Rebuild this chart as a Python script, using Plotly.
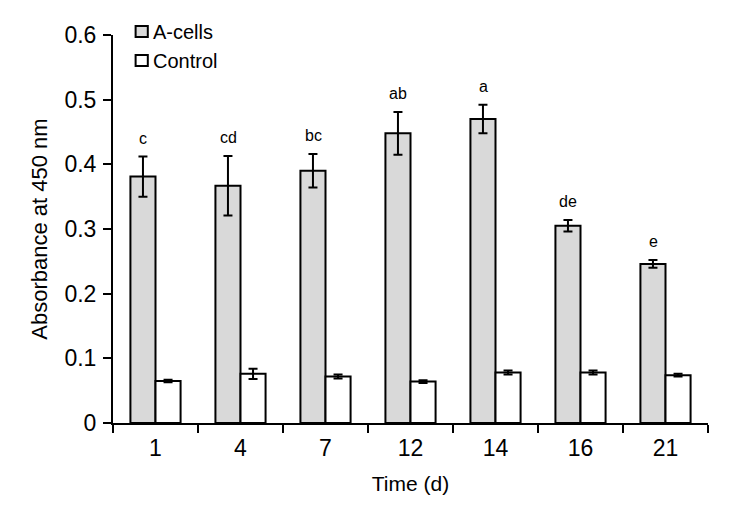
import plotly.graph_objects as go

days = ["1", "4", "7", "12", "14", "16", "21"]
a_cells = [0.381, 0.367, 0.390, 0.448, 0.470, 0.305, 0.246]
a_cells_err = [0.031, 0.046, 0.026, 0.033, 0.022, 0.009, 0.006]
control = [0.065, 0.076, 0.072, 0.064, 0.078, 0.078, 0.074]
control_err = [0.002, 0.008, 0.003, 0.002, 0.003, 0.003, 0.002]
letters = ["c", "cd", "bc", "ab", "a", "de", "e"]
series_names = ["A-cells", "Control"]
series_colors = ["#d9d9d9", "white"]

FONT = "Liberation Sans, Arial, sans-serif"

fig = go.Figure()
fig.add_trace(go.Bar(
    x=days, y=a_cells, name=series_names[0],
    marker=dict(color=series_colors[0], line=dict(color="black", width=2)),
    error_y=dict(type="data", array=a_cells_err, color="black", thickness=2, width=4.5),
))
fig.add_trace(go.Bar(
    x=days, y=control, name=series_names[1],
    marker=dict(color=series_colors[1], line=dict(color="black", width=2)),
    error_y=dict(type="data", array=control_err, color="black", thickness=2, width=4.5),
))

for i, (v, e, t) in enumerate(zip(a_cells, a_cells_err, letters)):
    fig.add_annotation(x=i, y=v + e, xref="x", yref="y", text=t, showarrow=False, xshift=-12.5,
                       yanchor="bottom", yshift=8,
                       font=dict(family=FONT, size=16, color="black"))

# manual legend (square swatch + label), positioned in paper coordinates
legend_rows = [(0.9948, 1.0232), (0.9200, 0.9484)]
for (y0, y1), name, col in zip(legend_rows, series_names, series_colors):
    fig.add_shape(type="rect", xref="paper", yref="paper", x0=0.038, x1=0.0585, y0=y0, y1=y1,
                  fillcolor=col, line=dict(color="black", width=2))
    fig.add_annotation(xref="paper", yref="paper", x=0.0645, y=(y0 + y1) / 2, text=name,
                       showarrow=False, xanchor="left", yanchor="middle",
                       font=dict(family=FONT, size=20, color="black"))

fig.update_layout(
    width=738, height=511,
    margin=dict(l=113, r=30, t=35, b=88, autoexpand=False),
    paper_bgcolor="white", plot_bgcolor="white",
    barmode="group", bargap=0.41, bargroupgap=0,
    font=dict(family=FONT, color="black"),
    showlegend=False,
    xaxis=dict(
        type="category", categoryorder="array", categoryarray=days,
        range=[-0.5, len(days) - 0.5], automargin=False,
        showline=True, linecolor="black", linewidth=2, tickangle=0,
        ticks="outside", tickson="boundaries", ticklen=8, tickwidth=2, tickcolor="black",
        ticklabelstandoff=3,
        tickfont=dict(family=FONT, size=23, color="black"),
        title=dict(text="Time (d)", font=dict(family=FONT, size=21, color="black"), standoff=17),
        showgrid=False, zeroline=False,
    ),
    yaxis=dict(
        range=[0, 0.6], dtick=0.1, showline=True, linecolor="black", linewidth=2,
        automargin=False,
        ticks="outside", ticklen=8, tickwidth=2, tickcolor="black",
        ticklabelstandoff=2,
        tickfont=dict(family=FONT, size=23, color="black"),
        title=dict(text="Absorbance at 450 nm", font=dict(family=FONT, size=22, color="black"), standoff=11),
        showgrid=False, zeroline=False,
    ),
)

fig.write_html("out.html", config={"displayModeBar": False},
               post_script="document.body.style.margin='0';")
